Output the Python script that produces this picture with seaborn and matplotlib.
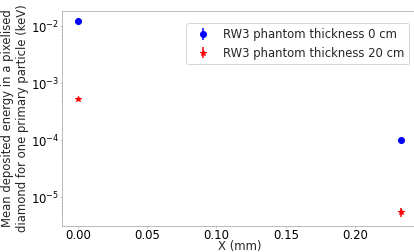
"""
Mean deposited energy per pixel vs X position
"""

import numpy as np
import pandas as pd
import matplotlib.pyplot as plt
import seaborn as sns

# positions (mm)
x_pos = [0.0, 0.233]

# mean deposited energy (keV) and errors
energy_0cm = [1.22e-2, 1.0e-4]
err_0cm = [1.5e-4, 2e-6]
energy_20cm = [5.2e-4, 5.4e-6]
err_20cm = [2.5e-5, 1.0e-6]

labels = ["RW3 phantom thickness 0 cm", "RW3 phantom thickness 20 cm"]

sns.set_style("white")
plt.rcParams["font.family"] = ["DejaVu Sans"]
fs = 11.6

fig = plt.figure(figsize=(414 / 72, 252 / 72), dpi=72)
ax = fig.add_axes([62 / 414, 1 - 226 / 252, 355 / 414, 215 / 252])

ax.errorbar(x_pos, energy_0cm, yerr=err_0cm, fmt="o", color="blue",
            markersize=6, label=labels[0])
ax.errorbar(x_pos, energy_20cm, yerr=err_20cm, fmt="*", color="red",
            markersize=6, label=labels[1])

ax.set_yscale("log")
ax.set_xlim(-0.0115, 0.2447)
ax.set_ylim(3.1e-6, 1.84e-2)
ax.set_xticks([0.0, 0.05, 0.10, 0.15, 0.20])
ax.set_xticklabels(["0.00", "0.05", "0.10", "0.15", "0.20"])

ax.tick_params(axis="both", which="both", colors="#bbbbbb", labelcolor="black",
               left=True, bottom=True, labelsize=fs, pad=1)
ax.tick_params(which="major", length=2, width=0.8)
ax.tick_params(which="minor", length=1.5, width=0.6)
for s in ax.spines.values():
    s.set_color("#aaaaaa")

ax.set_xlabel("X (mm)", fontsize=fs, labelpad=-2)
ax.set_ylabel("Mean deposited energy in a pixelised\ndiamond for one primary particle (keV)",
              fontsize=fs, labelpad=2)
ax.legend(loc="upper right", fontsize=fs, frameon=True,
          bbox_to_anchor=(0.995, 0.97))

fig.savefig("out.png", dpi=72)
